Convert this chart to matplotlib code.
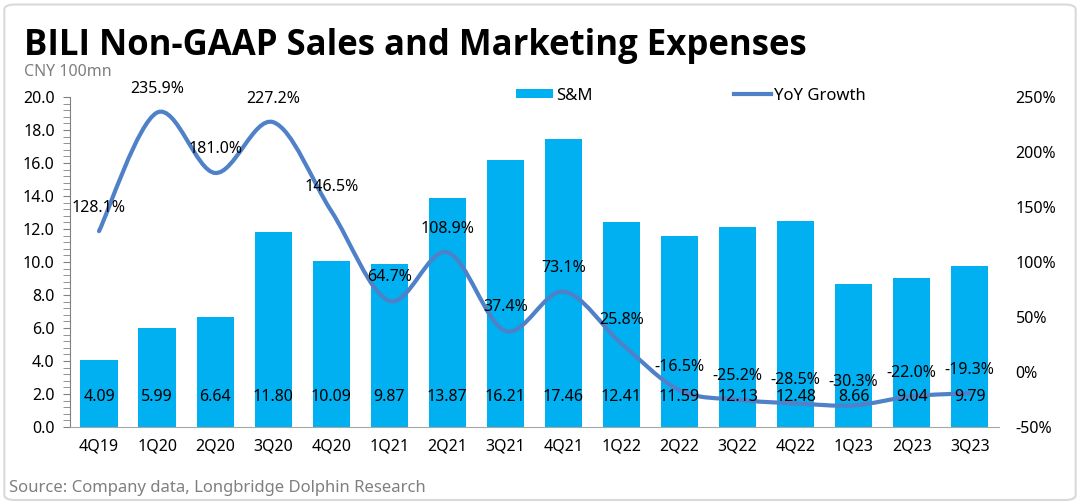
import matplotlib
matplotlib.use("Agg")
import matplotlib.pyplot as plt
from matplotlib.path import Path
from matplotlib.patches import PathPatch, FancyBboxPatch, Patch
from matplotlib.lines import Line2D
from matplotlib.ticker import MultipleLocator, FuncFormatter
import numpy as np

plt.rcParams['font.family'] = ['Noto Sans', 'DejaVu Sans']

quarters = ["4Q19", "1Q20", "2Q20", "3Q20", "4Q20", "1Q21", "2Q21", "3Q21",
            "4Q21", "1Q22", "2Q22", "3Q22", "4Q22", "1Q23", "2Q23", "3Q23"]
sm_expense = [4.09, 5.99, 6.64, 11.80, 10.09, 9.87, 13.87, 16.21,
              17.46, 12.41, 11.59, 12.13, 12.48, 8.66, 9.04, 9.79]
yoy_growth = [128.1, 235.9, 181.0, 227.2, 146.5, 64.7, 108.9, 37.4,
              73.1, 25.8, -16.5, -25.2, -28.5, -30.3, -22.0, -19.3]

BAR_C = '#00B0F0'
LINE_C = '#4F81C9'

fig = plt.figure(figsize=(10.8, 5.03), dpi=100)
ax = fig.add_axes([0.0648, 0.151, 0.86, 0.656])
ax2 = ax.twinx()
ax.set_zorder(1)
ax2.set_zorder(2)
ax.patch.set_visible(False)

x = np.arange(len(quarters))
ax.bar(x, sm_expense, width=0.64, color=BAR_C, zorder=2)

ax.set_xlim(-0.5, len(quarters) - 0.5)
ax.set_ylim(0, 20)
ax.yaxis.set_major_locator(MultipleLocator(2))
ax.yaxis.set_minor_locator(MultipleLocator(0.4))
ax.yaxis.set_major_formatter(FuncFormatter(lambda v, p: f"{v:.1f}"))
ax.set_xticks(x)
ax.set_xticklabels(quarters)
ax.tick_params(axis='x', length=0, pad=8, labelsize=11.5)
ax.tick_params(axis='y', which='both', direction='out', length=5, color='#808080',
               labelsize=11.5, pad=6)
for s in ['top', 'right']:
    ax.spines[s].set_visible(False)
ax.spines['left'].set_color('#808080')
ax.spines['bottom'].set_color('#A6A6A6')

# smoothed line (Excel-like bezier through the data points)
ax2.set_ylim(-50, 250)
pts = np.column_stack([x, yoy_growth]).astype(float)
verts = [tuple(pts[0])]
codes = [Path.MOVETO]
n = len(pts)
for i in range(n - 1):
    p0 = pts[i - 1] if i > 0 else pts[i]
    p1 = pts[i]
    p2 = pts[i + 1]
    p3 = pts[i + 2] if i + 2 < n else pts[i + 1]
    c1 = p1 + (p2 - p0) / 6.0
    c2 = p2 - (p3 - p1) / 6.0
    verts += [tuple(c1), tuple(c2), tuple(p2)]
    codes += [Path.CURVE4] * 3
ax2.add_patch(PathPatch(Path(verts, codes), facecolor='none', edgecolor=LINE_C,
                        lw=3.0, capstyle='round', joinstyle='round', zorder=2))
for xi, v in zip(x, yoy_growth):
    ax2.annotate(f"{v:.1f}%", (xi, v), xytext=(0, 17), textcoords='offset points',
                 ha='center', va='center', fontsize=11.5, color='black', zorder=4)

# bar value labels drawn above the line
for xi, v in zip(x, sm_expense):
    ax2.text(xi, 1.8, f"{v:.2f}", transform=ax.transData, ha='center', va='center',
             fontsize=11.5, color='black', zorder=5)

ax2.yaxis.set_major_locator(MultipleLocator(50))
ax2.yaxis.set_major_formatter(FuncFormatter(lambda v, p: f"{v:.0f}%"))
ax2.tick_params(axis='y', length=0, pad=12, labelsize=11.5)
for s in ['top', 'right', 'left', 'bottom']:
    ax2.spines[s].set_visible(False)

# legend
handles = [Patch(facecolor=BAR_C, edgecolor='none'),
           Line2D([0], [0], color=LINE_C, lw=3)]
fig.legend(handles, ["S&M", "YoY Growth"], loc='center', bbox_to_anchor=(0.64, 0.81),
           ncol=2, frameon=False, fontsize=12, columnspacing=8.5, handlelength=2.2,
           handleheight=0.5, handletextpad=0.2)

# titles
fig.text(0.022, 0.908, "BILI Non-GAAP Sales and Marketing Expenses", fontsize=25,
         fontweight='bold', family=['Open Sans', 'DejaVu Sans'],
         ha='left', va='center', color='black')
fig.text(0.022, 0.856, "CNY 100mn", fontsize=11.5, color='#7F7F7F', ha='left', va='center')
fig.text(0.008, 0.03, "Source: Company data, Longbridge Dolphin Research", fontsize=12,
         color='#7F7F7F', ha='left', va='center')

# frame
fig.patches.append(FancyBboxPatch((0.004, 0.006), 0.992, 0.985,
                                  boxstyle="round,pad=0,rounding_size=0.01",
                                  transform=fig.transFigure, facecolor='none',
                                  edgecolor='#D9D9D9', lw=1.5))

fig.savefig("out.png", dpi=100)
